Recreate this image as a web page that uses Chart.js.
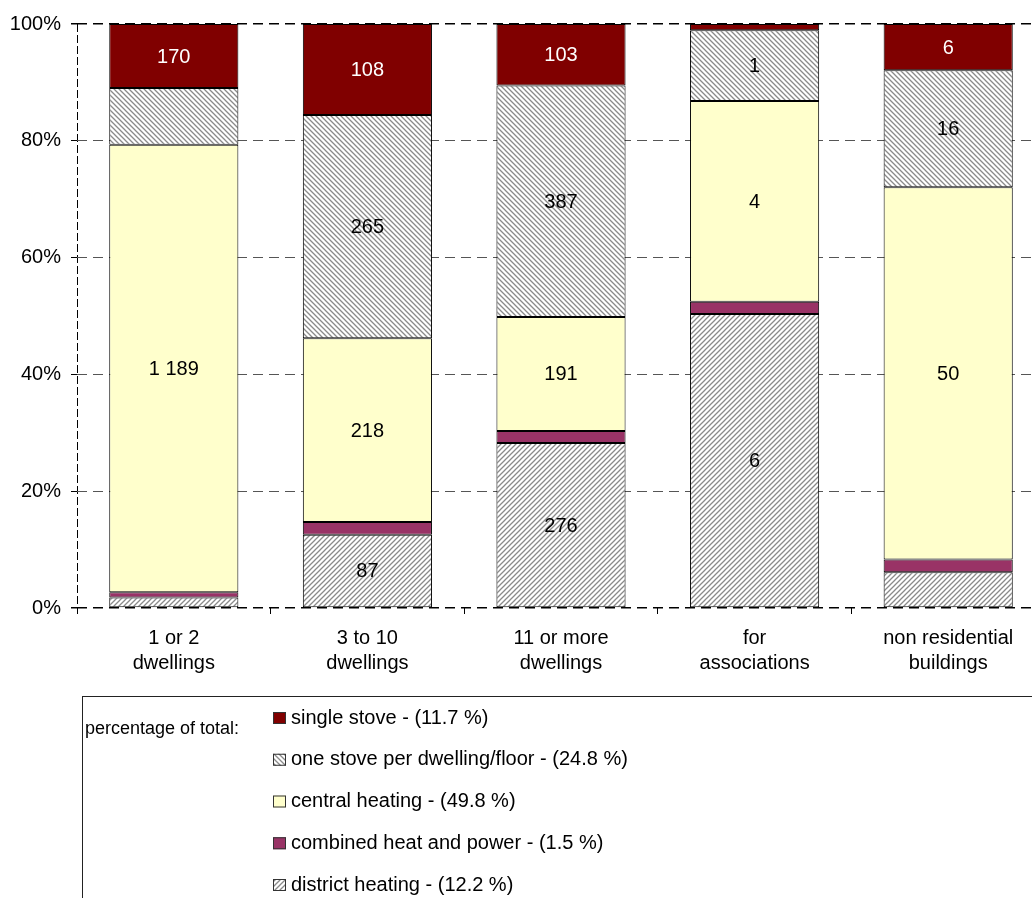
<!DOCTYPE html>
<html>
<head>
<meta charset="utf-8">
<script src="https://cdn.jsdelivr.net/npm/chart.js@4"></script>
<style>
  html, body { margin: 0; padding: 0; background: #fff; overflow: hidden; }
  #wrap { width: 1045px; height: 898px; }
</style>
</head>
<body>
<div id="wrap"><canvas id="heating" width="1045" height="898"></canvas></div>
<script>
// building types (x categories)
const categories = [
    ['1 or 2', 'dwellings'],
    ['3 to 10', 'dwellings'],
    ['11 or more', 'dwellings'],
    ['for', 'associations'],
    ['non residential', 'buildings']
]

// counts per heating type, same order as categories
const singleStove = [170, 108, 103, 0.13, 6.2]
const stovePerFloor = [151, 265, 387, 1.44, 15.7]
const centralHeating = [1189, 218, 191, 4.1, 50]
const combinedHeat = [14, 15, 20, 0.25, 1.7]
const districtHeating = [28, 87, 276, 6, 4.8]

// legend: share of total (top to bottom)
const legendNames = ['single stove', 'one stove per dwelling/floor', 'central heating', 'combined heat and power', 'district heating']
const shareOfTotal = [11.7, 24.8, 49.8, 1.5, 12.2]

// segments whose count is not printed in the picture: [legend row, category]
const noLabel = [[1, 0]]

const FONT = '"Liberation Sans", Arial, sans-serif'
Chart.defaults.font.family = FONT
Chart.defaults.font.size = 20
Chart.defaults.color = '#000'

const canvas = document.getElementById('heating')
const ctx0 = canvas.getContext('2d')

function hatch(back) {
    const s = 5
    const c = document.createElement('canvas')
    c.width = s
    c.height = s
    const g = c.getContext('2d')
    g.fillStyle = '#fff'
    g.fillRect(0, 0, s, s)
    g.strokeStyle = '#8a8a8a'
    g.lineWidth = 1.3
    g.beginPath()
    if (back) {
        g.moveTo(-1, -1); g.lineTo(s + 1, s + 1)
        g.moveTo(-1, s - 1); g.lineTo(1, s + 1)
        g.moveTo(s - 1, -1); g.lineTo(s + 1, 1)
    } else {
        g.moveTo(-1, s + 1); g.lineTo(s + 1, -1)
        g.moveTo(-1, 1); g.lineTo(1, -1)
        g.moveTo(s - 1, s + 1); g.lineTo(s + 1, s - 1)
    }
    g.stroke()
    return ctx0.createPattern(c, 'repeat')
}

const seriesValues = [singleStove, stovePerFloor, centralHeating, combinedHeat, districtHeating]
const fills = ['#800000', hatch(true), '#ffffcc', '#993366', hatch(false)]
const labelColors = ['#fff', '#000', '#000', '#000', '#000']

const totals = categories.map((c, i) => seriesValues.reduce((s, arr) => s + arr[i], 0))

function fmt(v) {
    return String(Math.round(v)).replace(/\B(?=(\d{3})+(?!\d))/g, ' ')
}

// bottom of the stack first
let datasets = []
for (let k = seriesValues.length - 1; k >= 0; k--) {
    datasets.push({
        label: legendNames[k],
        row: k,
        counts: seriesValues[k],
        data: seriesValues[k].map((v, i) => v / totals[i] * 100),
        backgroundColor: fills[k],
        borderColor: '#000',
        borderWidth: 1,
        borderSkipped: false,
        barPercentage: 0.667,
        categoryPercentage: 1
    })
}

const segmentLabels = {
    id: 'segmentLabels',
    afterDatasetsDraw(chart) {
        const ctx = chart.ctx
        ctx.save()
        ctx.font = '20px ' + FONT
        ctx.textAlign = 'center'
        ctx.textBaseline = 'middle'
        chart.data.datasets.forEach((ds, di) => {
            chart.getDatasetMeta(di).data.forEach((bar, i) => {
                if (ds.data[i] < 7 || Math.round(ds.counts[i]) === 0) return
                if (noLabel.some(p => p[0] === ds.row && p[1] === i)) return
                ctx.fillStyle = labelColors[ds.row]
                ctx.fillText(fmt(ds.counts[i]), bar.x, (bar.y + bar.base) / 2 + 1)
            })
        })
        ctx.restore()
    }
}

const boxLegend = {
    id: 'boxLegend',
    afterDraw(chart) {
        const ctx = chart.ctx
        ctx.save()
        ctx.strokeStyle = '#222'
        ctx.lineWidth = 1
        ctx.strokeRect(82.5, 696.5, chart.width, 300)
        ctx.fillStyle = '#000'
        ctx.textBaseline = 'middle'
        ctx.font = '18px ' + FONT
        ctx.fillText('percentage of total:', 85, 729)
        ctx.font = '20px ' + FONT
        legendNames.forEach((name, k) => {
            const y = 718 + k * 41.75
            ctx.fillStyle = fills[k]
            ctx.fillRect(273, y - 6, 13, 12)
            ctx.strokeStyle = '#333'
            ctx.strokeRect(273.5, y - 5.5, 12, 11)
            ctx.fillStyle = '#000'
            ctx.fillText(name + ' - (' + shareOfTotal[k].toFixed(1) + ' %)', 291, y)
        })
        ctx.restore()
    }
}

new Chart(canvas, {
    type: 'bar',
    data: { labels: categories, datasets: datasets },
    options: {
        responsive: false,
        animation: false,
        layout: { padding: { top: 24, left: 0, right: 0, bottom: 210 } },
        plugins: {
            legend: { display: false },
            tooltip: { enabled: false }
        },
        scales: {
            x: {
                stacked: true,
                afterFit: s => { s.height = 80 },
                grid: {
                    offset: true,
                    color: c => c.index === 0 ? '#000' : 'rgba(0,0,0,0)',
                    tickColor: '#000',
                    tickLength: 6
                },
                border: { display: false, dash: [8, 3] },
                ticks: { padding: 12, font: { size: 20, lineHeight: 1.25 }, maxRotation: 0, autoSkip: false }
            },
            y: {
                stacked: true,
                min: 0,
                max: 100,
                afterFit: s => { s.width = 77 },
                grid: {
                    color: c => (c.tick && (c.tick.value === 0 || c.tick.value === 100)) ? '#000' : '#555',
                    lineWidth: c => (c.tick && (c.tick.value === 0 || c.tick.value === 100)) ? 1.5 : 1,
                    tickColor: '#000',
                    tickLength: 6
                },
                border: { display: false, dash: [10, 6] },
                ticks: { stepSize: 20, padding: 10, callback: v => v + '%' }
            }
        }
    },
    plugins: [segmentLabels, boxLegend]
})
</script>
</body>
</html>
